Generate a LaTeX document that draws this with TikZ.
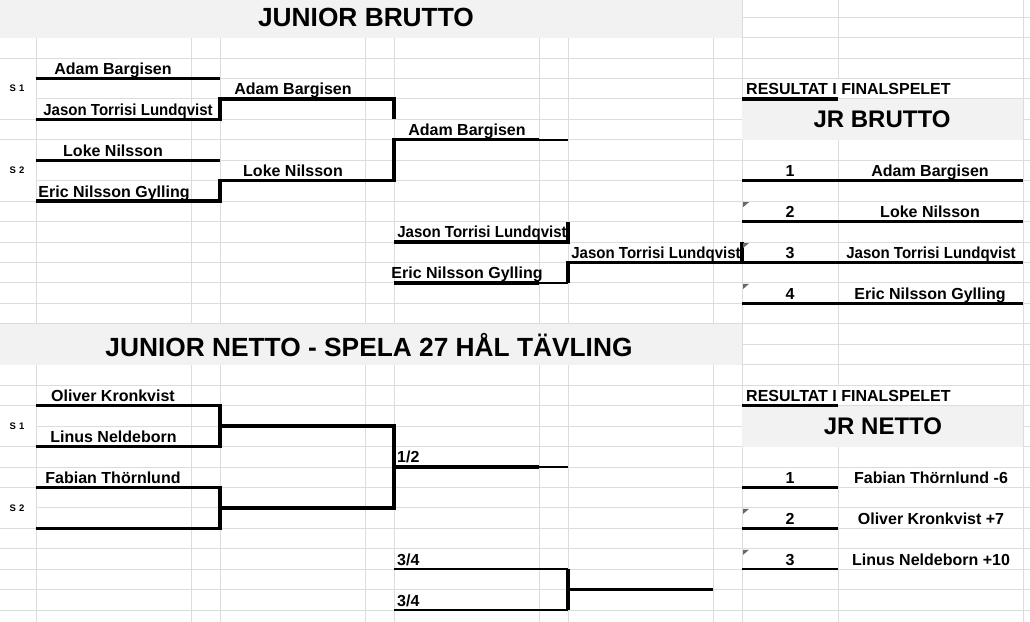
\documentclass[tikz,border=0pt]{standalone}
\usepackage{fontspec}
\setmainfont{Liberation Sans}
\usepackage{graphicx}
\usepackage{xcolor}
\usepackage{tikz}
\definecolor{gridgray}{RGB}{220,220,220}
\definecolor{bandgray}{RGB}{242,242,242}
\definecolor{notegray}{RGB}{105,105,105}
\newcommand{\narrowname}[1]{\scalebox{0.94}[1]{#1}}

\begin{document}
\begin{tikzpicture}[x=1pt,y=-20.45pt,
    gridline/.style={gridgray,line width=0.9pt},
    band/.style={fill=bandgray,draw=none},
    bline/.style={line width=3.3pt},
    mline/.style={line width=2.4pt},
    player/.style={font=\fontsize{16}{18}\selectfont\bfseries,inner sep=0pt,anchor=base},
    title/.style={font=\fontsize{26.3}{30}\selectfont\bfseries,inner sep=0pt},
    subtitle/.style={font=\fontsize{24}{28}\selectfont\bfseries,inner sep=0pt},
    seed/.style={font=\fontsize{9.5}{11}\selectfont\bfseries,inner sep=0pt},
    note/.style={fill=notegray,draw=none}]
    \useasboundingbox (0,-1.8337) rectangle (1030,28.58);
    % grid
    \foreach \k in {-1,0,...,28}
      \draw[gridline] (36,\k) -- (1030,\k);
    \foreach \k in {-1,0,1,4,5,8,9,10,11,12,13,14,15,16,17,18,20,21,22,24,25,26,27,28}
      \draw[gridline] (0,\k) -- (36,\k);
    \foreach \x in {36,191,220,365,394,539,568,713,742,1023}
      \draw[gridline] (\x,-1.84) -- (\x,28.6);
    \draw[gridline] (838,-1.84) -- (838,2);
    \draw[gridline] (838,5) -- (838,17);
    \draw[gridline] (838,20) -- (838,28.6);
    \fill[band] (0,-1.84) rectangle (742,0);
    \fill[band] (0,14) rectangle (742,16);
    \fill[band] (742,3) rectangle (1023,5);
    \fill[band] (742,18) rectangle (1023,20);

    % junior brutto
    \node[title] (hbrutto) at (366,-0.98) {JUNIOR BRUTTO};
    \node[seed] (s1b) at (17,2.5) {S\,\,1};
    \node[seed] (s2b) at (17,6.5) {S\,\,2};
    \draw[bline] (36,2) -- (220,2);
    \draw[bline] (36,4) -- (220,4) -- (220,3) -- (394,3) -- (394,4);
    \draw[bline] (36,6) -- (220,6);
    \draw[bline] (36,8) -- (220,8) -- (220,7) -- (394,7) -- (394,5) -- (539,5);
    \draw[mline] (539,5) -- (568,5);
    \draw[bline] (394,10) -- (568,10) -- (568,9);
    \draw[bline] (394,12) -- (539,12);
    \draw[mline] (539,12) -- (568,12);
    \draw[bline] (568,12) -- (568,11) -- (742,11) -- (742,10);
    \node[player] (pb1) at (113,1.8) {Adam Bargisen};
    \node[player] (pb2) at (128,3.8) {\narrowname{Jason Torrisi Lundqvist}};
    \node[player] (pb3) at (113,5.8) {Loke Nilsson};
    \node[player] (pb4) at (114,7.8) {Eric Nilsson Gylling};
    \node[player] (wb1) at (293,2.8) {Adam Bargisen};
    \node[player] (wb2) at (293,6.8) {Loke Nilsson};
    \node[player] (finb) at (467,4.8) {Adam Bargisen};
    \node[player] (lb1) at (482,9.8) {\narrowname{Jason Torrisi Lundqvist}};
    \node[player] (lb2) at (467,11.8) {Eric Nilsson Gylling};
    \node[player] (bronzeb) at (656,10.8) {\narrowname{Jason Torrisi Lundqvist}};

    % resultat brutto
    \node[player,anchor=base west] (resb) at (746,2.8) {RESULTAT I FINALSPELET};
    \draw[bline] (742,3) -- (838,3);
    \node[subtitle] (jrb) at (882,4) {JR BRUTTO};
    \foreach \k in {7,9,11,13}
      \draw[bline] (742,\k) -- (1023,\k);
    \node[player] (rb1) at (790,6.8) {1};
    \node[player] (rb2) at (790,8.8) {2};
    \node[player] (rb3) at (790,10.8) {3};
    \node[player] (rb4) at (790,12.8) {4};
    \node[player] (nb1) at (930,6.8) {Adam Bargisen};
    \node[player] (nb2) at (930,8.8) {Loke Nilsson};
    \node[player] (nb3) at (931,10.8) {\narrowname{Jason Torrisi Lundqvist}};
    \node[player] (nb4) at (930,12.8) {Eric Nilsson Gylling};

    % junior netto
    \node[title] (hnetto) at (369,15.02) {JUNIOR NETTO - SPELA 27 HÅL TÄVLING};
    \node[seed] (s1n) at (17,19) {S\,\,1};
    \node[seed] (s2n) at (17,23) {S\,\,2};
    \draw[bline] (36,18) -- (220,18) -- (220,20) -- (36,20);
    \draw[bline] (220,19) -- (394,19) -- (394,23) -- (220,23);
    \draw[bline] (36,22) -- (220,22) -- (220,24) -- (36,24);
    \draw[bline] (394,21) -- (539,21);
    \draw[mline] (539,21) -- (568,21);
    \draw[mline] (394,26) -- (568,26);
    \draw[mline] (394,28) -- (568,28);
    \draw[bline] (568,26) -- (568,28);
    \draw[mline] (568,27) -- (713,27);
    \node[player] (pn1) at (113,17.8) {Oliver Kronkvist};
    \node[player] (pn2) at (113.5,19.8) {Linus Neldeborn};
    \node[player] (pn3) at (113,21.8) {Fabian Thörnlund};
    \node[player,anchor=base west] (finn) at (397,20.8) {1/2};
    \node[player,anchor=base west] (ln1) at (397,25.8) {3/4};
    \node[player,anchor=base west] (ln2) at (397,27.8) {3/4};

    % resultat netto
    \node[player,anchor=base west] (resn) at (746,17.8) {RESULTAT I FINALSPELET};
    \draw[bline] (742,18) -- (838,18);
    \node[subtitle] (jrn) at (883,19) {JR NETTO};
    \foreach \k in {22,24,26}
      \draw[mline] (742,\k) -- (838,\k);
    \node[player] (rn1) at (790,21.8) {1};
    \node[player] (rn2) at (790,23.8) {2};
    \node[player] (rn3) at (790,25.8) {3};
    \node[player] (nn1) at (931,21.8) {Fabian Thörnlund -6};
    \node[player] (nn2) at (931,23.8) {Oliver Kronkvist +7};
    \node[player] (nn3) at (931,25.8) {Linus Neldeborn +10};

    % comment markers
    \foreach \k in {8,10,12,23,25}
      \fill[note] (743,\k+0.05) -- (749,\k+0.05) -- (743,\k+0.3) -- cycle;
\end{tikzpicture}
\end{document}
